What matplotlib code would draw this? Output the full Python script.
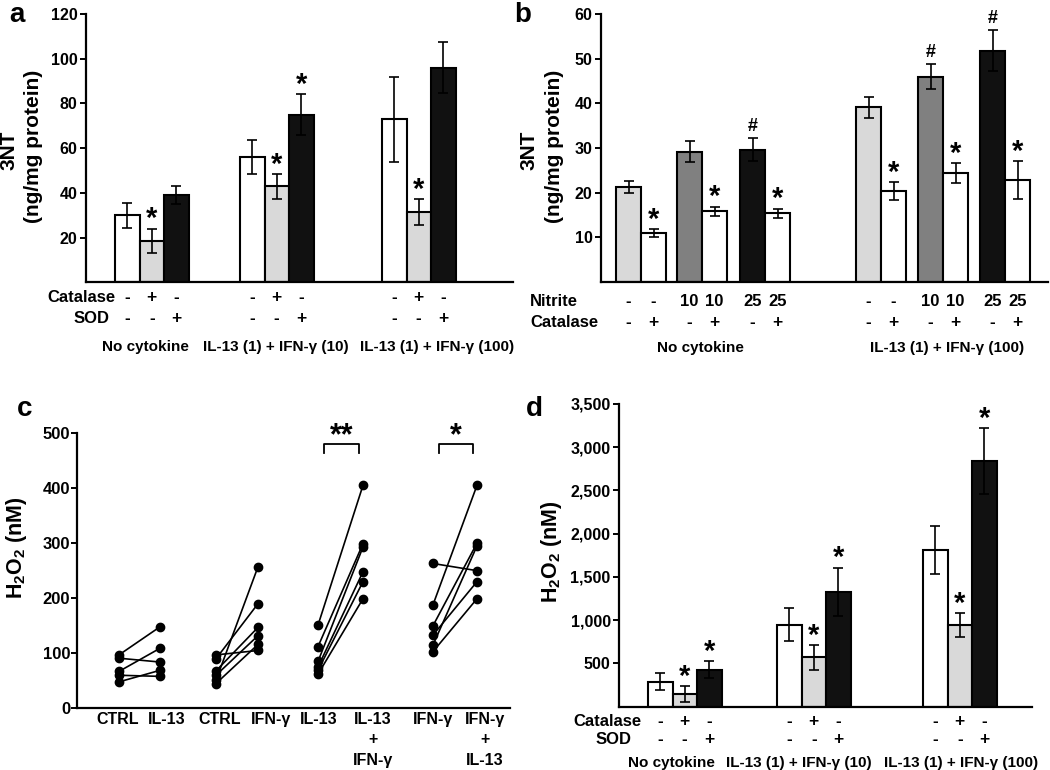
import matplotlib
matplotlib.use('Agg')
import matplotlib.pyplot as plt
from matplotlib.ticker import FuncFormatter

plt.rcParams['font.family'] = ['Liberation Sans', 'DejaVu Sans']
plt.rcParams['font.weight'] = 'bold'
plt.rcParams['mathtext.fontset'] = 'custom'
plt.rcParams['mathtext.rm'] = 'Liberation Sans:bold'
plt.rcParams['mathtext.bf'] = 'Liberation Sans:bold'

W, H = 1050, 770

# ---- panel a: 3NT, catalase / SOD ----
a_groups = ['No cytokine', 'IL-13 (1) + IFN-γ (10)', 'IL-13 (1) + IFN-γ (100)']
a_catalase = ['-', '+', '-']
a_sod = ['-', '-', '+']
a_means = [[30, 18.5, 39], [56, 43, 75], [73, 31.5, 96]]
a_errs = [[5.5, 5.5, 4], [7.6, 5.5, 9.3], [19, 5.6, 11.5]]
a_marks = [['', '*', ''], ['', '*', '*'], ['', '*', '']]

# ---- panel b: 3NT, nitrite / catalase ----
b_groups = ['No cytokine', 'IL-13 (1) + IFN-γ (100)']
b_nitrite = ['-', '-', '10', '10', '25', '25']
b_catalase = ['-', '+', '-', '+', '-', '+']
b_means = [[21.3, 10.9, 29.2, 15.8, 29.6, 15.4],
           [39.1, 20.4, 46.0, 24.4, 51.8, 22.8]]
b_errs = [[1.3, 0.9, 2.4, 1.1, 2.6, 1.0],
          [2.4, 2.0, 2.9, 2.2, 4.6, 4.3]]
b_marks = [['', '*', '', '*', '#', '*'], ['', '*', '#', '*', '#', '*']]

# ---- panel c: paired H2O2 ----
c_labels = ['CTRL', 'IL-13', 'CTRL', 'IFN-γ', 'IL-13', 'IL-13\n+\nIFN-γ',
            'IFN-γ', 'IFN-γ\n+\nIL-13']
c_before = [[97, 91, 67, 60, 48],
            [97, 90, 68, 60, 51, 45],
            [151, 112, 85, 75, 69, 62],
            [263, 188, 150, 133, 115, 103]]
c_after = [[148, 84, 109, 58, 69],
           [105, 190, 147, 132, 257, 116],
           [405, 299, 293, 248, 230, 199],
           [250, 405, 300, 230, 295, 199]]
c_sig = ['', '', '**', '*']

# ---- panel d: H2O2, catalase / SOD ----
d_groups = ['No cytokine', 'IL-13 (1) + IFN-γ (10)', 'IL-13 (1) + IFN-γ (100)']
d_catalase = ['-', '+', '-']
d_sod = ['-', '-', '+']
d_means = [[290, 145, 430], [950, 570, 1330], [1815, 945, 2840]]
d_errs = [[95, 95, 100], [190, 142, 276], [280, 140, 380]]
d_marks = [['', '*', '*'], ['', '*', '*'], ['', '*', '*']]

fig = plt.figure(figsize=(W / 100, H / 100), dpi=100)


def px_axes(left, top, right, bottom):
    # x data units are figure pixels, so layout and text line up easily
    ax = fig.add_axes([left / W, 1 - bottom / H, (right - left) / W, (bottom - top) / H])
    ax.set_xlim(left, right)
    for s in ['top', 'right']:
        ax.spines[s].set_visible(False)
    for s in ['left', 'bottom']:
        ax.spines[s].set_linewidth(1.6)
    ax.tick_params(axis='x', bottom=False, labelbottom=False)
    ax.tick_params(axis='y', direction='out', length=4, width=1.4, labelsize=11.5, pad=2)
    return ax


def bold_ticks(ax):
    for lab in ax.get_yticklabels():
        lab.set_fontweight('bold')


def ftext(x, y, s, **kw):
    kw.setdefault('fontweight', 'bold')
    fig.text(x / W, 1 - y / H, s, **kw)


def bars(ax, x, val, err, color, mark, width):
    ax.bar(x, val, width=width, align='edge', color=color, edgecolor='black', linewidth=1.5, zorder=2)
    ax.errorbar(x + width / 2, val, yerr=err, fmt='none', ecolor='black', elinewidth=1.2,
                capsize=3.5, capthick=1.2, zorder=3)
    if mark == '*':
        ax.annotate('*', (x + width / 2, val + err), xytext=(0, 1), textcoords='offset points',
                    ha='center', va='baseline', fontsize=21, fontweight='bold')
    elif mark == '#':
        ax.annotate('#', (x + width / 2, val + err), xytext=(0, 5), textcoords='offset points',
                    ha='center', va='baseline', fontsize=13, fontweight='bold')


fills3 = ['white', '#d9d9d9', '#111111']

# panel a
ax = px_axes(86, 14, 513, 282.5)
ax.set_ylim(0, 120)
ax.set_yticks([20, 40, 60, 80, 100, 120])
bold_ticks(ax)
bw = 24.5
for g, left in enumerate([115, 240, 382]):
    for i in range(3):
        bars(ax, left + i * bw, a_means[g][i], a_errs[g][i], fills3[i], a_marks[g][i], bw)
        ftext(left + i * bw + bw / 2, 302, a_catalase[i], ha='center', fontsize=12.5)
        ftext(left + i * bw + bw / 2, 323, a_sod[i], ha='center', fontsize=12.5)
for cx, name in zip([145, 276, 437], a_groups):
    ftext(cx, 351, name, ha='center', fontsize=11)
ftext(115, 302, 'Catalase', ha='right', fontsize=12)
ftext(110, 323, 'SOD', ha='right', fontsize=12)
ftext(9, 150, '3NT', rotation=90, ha='center', va='center', fontsize=15)
ftext(34, 146, '(ng/mg protein)', rotation=90, ha='center', va='center', fontsize=15)
ftext(9, 22, 'a', fontsize=20)

# panel b
ax = px_axes(601, 14, 1048, 282)
ax.set_ylim(0, 60)
ax.set_yticks([10, 20, 30, 40, 50, 60])
bold_ticks(ax)
fills_b = ['#d9d9d9', 'white', '#808080', 'white', '#111111', 'white']
b_lefts = [[616, 677, 740], [856, 918, 980]]
bw = 25
for g in range(2):
    for i in range(6):
        x = b_lefts[g][i // 2] + (i % 2) * bw
        bars(ax, x, b_means[g][i], b_errs[g][i], fills_b[i], b_marks[g][i], bw)
        ftext(x + bw / 2, 306, b_nitrite[i], ha='center', fontsize=12)
        ftext(x + bw / 2, 327, b_catalase[i], ha='center', fontsize=12.5)
for cx, name in zip([700, 947], b_groups):
    ftext(cx, 352, name, ha='center', fontsize=11)
ftext(530, 306, 'Nitrite', ha='left', fontsize=12)
ftext(530, 327, 'Catalase', ha='left', fontsize=12)
ftext(529, 150, '3NT', rotation=90, ha='center', va='center', fontsize=15)
ftext(554, 146, '(ng/mg protein)', rotation=90, ha='center', va='center', fontsize=15)
ftext(514, 22, 'b', fontsize=20)

# panel c
ax = px_axes(77, 433, 510, 708.3)
ax.set_ylim(0, 500)
ax.set_yticks([0, 100, 200, 300, 400, 500])
ax.tick_params(axis='y', labelsize=12, pad=1)
bold_ticks(ax)
pt_x = [119, 160, 216, 258, 318, 363, 433, 477]
lab_x = [118, 167, 220, 271, 319, 373, 433, 485]
for p in range(4):
    x0, x1 = pt_x[2 * p], pt_x[2 * p + 1]
    for b, a in zip(c_before[p], c_after[p]):
        ax.plot([x0, x1], [b, a], '-o', color='black', lw=1.2, ms=6, clip_on=False, zorder=3)
    if c_sig[p]:
        ax.plot([x0 + 6, x0 + 6, x1 - 4, x1 - 4], [464, 480, 480, 464], color='black', lw=1.3,
                clip_on=False)
        ax.text((x0 + x1) / 2 + 1, 480, c_sig[p], ha='center', va='baseline', fontsize=22,
                fontweight='bold')
for x, lab in zip(lab_x, c_labels):
    ftext(x, 712, lab, ha='center', va='top', fontsize=11.5, linespacing=1.45)
ftext(17, 548, r'$\mathbf{H_2O_2}$ (nM)', rotation=90, ha='center', va='center', fontsize=15.5)
ftext(17, 416, 'c', fontsize=20)

# panel d
ax = px_axes(619, 404, 1032, 706.7)
ax.set_ylim(0, 3500)
ax.set_yticks(range(500, 3501, 500))
ax.yaxis.set_major_formatter(FuncFormatter(lambda v, p: f'{int(v):,}'))
bold_ticks(ax)
bw = 24.5
for g, left in enumerate([648, 777, 923]):
    for i in range(3):
        bars(ax, left + i * bw, d_means[g][i], d_errs[g][i], fills3[i], d_marks[g][i], bw)
        ftext(left + i * bw + bw / 2, 726, d_catalase[i], ha='center', fontsize=12.5)
        ftext(left + i * bw + bw / 2, 744, d_sod[i], ha='center', fontsize=12.5)
for cx, name in zip([671, 799, 961], d_groups):
    ftext(cx, 767, name, ha='center', fontsize=11)
ftext(642, 726, 'Catalase', ha='right', fontsize=12)
ftext(632, 744, 'SOD', ha='right', fontsize=12)
ftext(552, 552, r'$\mathbf{H_2O_2}$ (nM)', rotation=90, ha='center', va='center', fontsize=15.5)
ftext(526, 416, 'd', fontsize=20)

fig.savefig('out.png', dpi=100)
